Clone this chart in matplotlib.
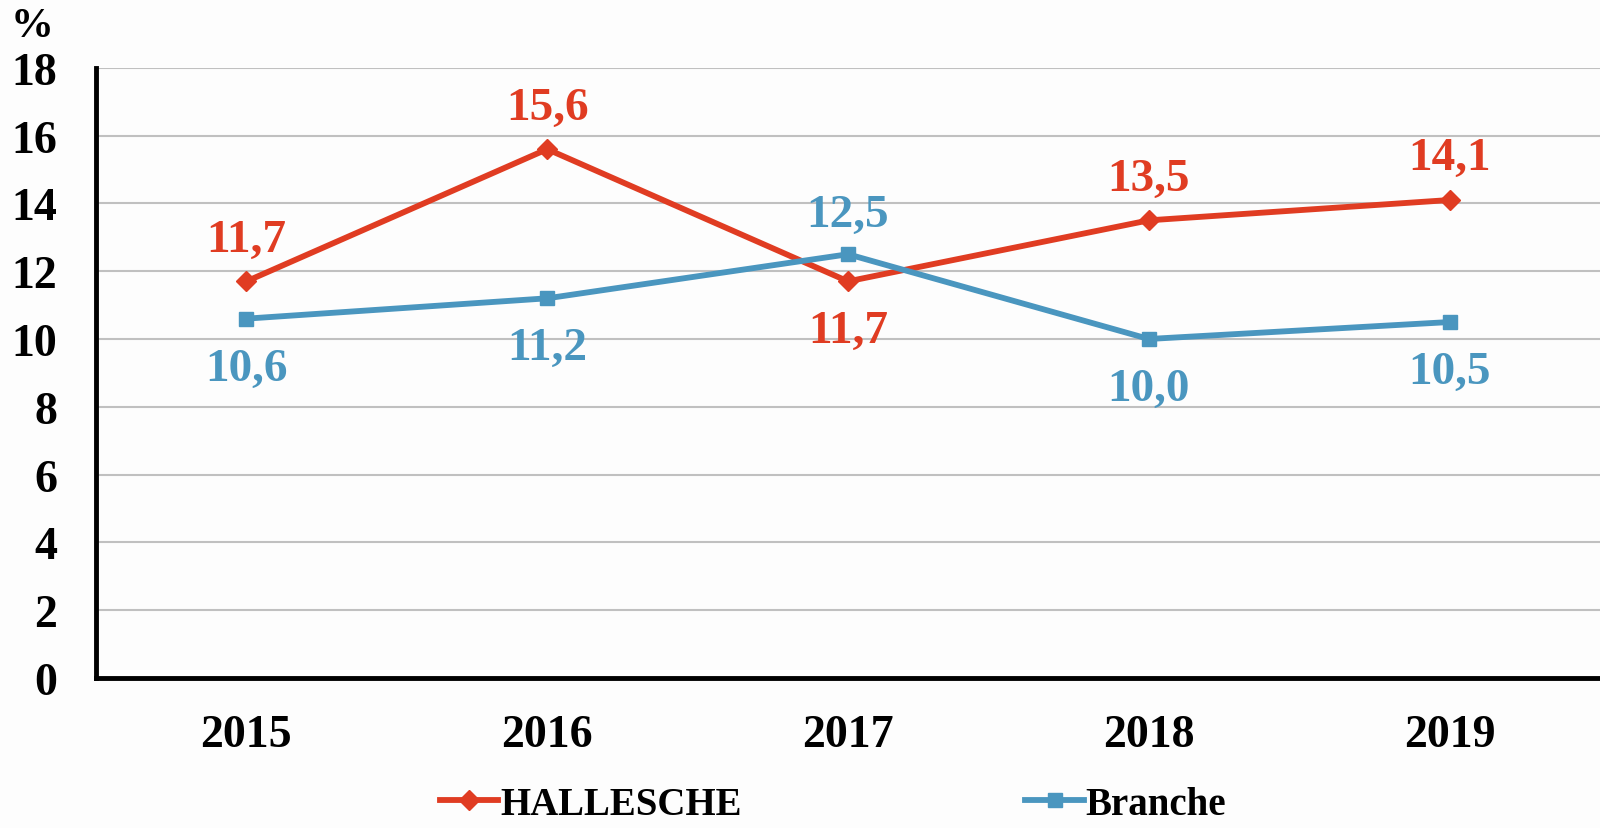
import matplotlib.pyplot as plt

plt.rcParams['font.family'] = ['Liberation Serif', 'DejaVu Serif']
plt.rcParams['font.weight'] = 'bold'

YEARS = ['2015', '2016', '2017', '2018', '2019']
HALLESCHE = [11.7, 15.6, 11.7, 13.5, 14.1]
BRANCHE = [10.6, 11.2, 12.5, 10.0, 10.5]
# +1 label above the point, -1 below
HALLESCHE_POS = [1, 1, -1, 1, 1]
BRANCHE_POS = [-1, -1, 1, -1, -1]

RED = '#e03c22'
BLUE = '#4a96bf'
FS = 34


def fmt(v):
    return ('%.1f' % v).replace('.', ',')


def main():
    fig = plt.figure(figsize=(16, 8.29), dpi=100)
    fig.patch.set_facecolor('#fdfdfd')
    ax = fig.add_axes([0.06, 0.181, 0.94, 0.736])
    ax.set_facecolor('#fdfdfd')

    x = list(range(len(YEARS)))
    ax.plot(x, HALLESCHE, color=RED, lw=4.2, marker='D', ms=10, label='HALLESCHE')
    ax.plot(x, BRANCHE, color=BLUE, lw=4.2, marker='s', ms=10, label='Branche')

    for xi, v, p in zip(x, HALLESCHE, HALLESCHE_POS):
        ax.annotate(fmt(v), (xi, v), xytext=(0, 30 if p > 0 else -36),
                    textcoords='offset points', ha='center', va='center',
                    color=RED, fontsize=FS, fontweight='bold')
    for xi, v, p in zip(x, BRANCHE, BRANCHE_POS):
        ax.annotate(fmt(v), (xi, v), xytext=(0, 28 if p > 0 else -36),
                    textcoords='offset points', ha='center', va='center',
                    color=BLUE, fontsize=FS, fontweight='bold')

    ax.set_xlim(-0.5, 4.5)
    ax.set_ylim(0, 18)
    ax.set_yticks(range(0, 19, 2))
    ax.set_xticks(x)
    ax.set_xticklabels(YEARS)
    ax.tick_params(axis='both', length=0, labelsize=FS - 1)
    ax.tick_params(axis='y', pad=28)
    ax.tick_params(axis='x', pad=26)
    for lab in ax.get_xticklabels() + ax.get_yticklabels():
        lab.set_fontweight('bold')

    ax.grid(axis='y', color='#c0c0c0', lw=1.5)
    ax.set_axisbelow(True)
    ax.spines['right'].set_visible(False)
    ax.spines['top'].set_visible(False)
    ax.spines['left'].set_linewidth(3.5)
    ax.spines['bottom'].set_linewidth(3.5)

    fig.text(0.02, 0.968, '%', fontsize=FS - 3, fontweight='bold', ha='center', va='center')

    ax.legend(loc='center', bbox_to_anchor=(0.49, -0.207), ncol=2, frameon=False,
              handlelength=1.5, handletextpad=0.05, columnspacing=7.3,
              borderaxespad=0, borderpad=0,
              prop={'weight': 'bold', 'size': FS - 6})

    plt.savefig('out.png', dpi=100, facecolor=fig.get_facecolor())


if __name__ == '__main__':
    main()
